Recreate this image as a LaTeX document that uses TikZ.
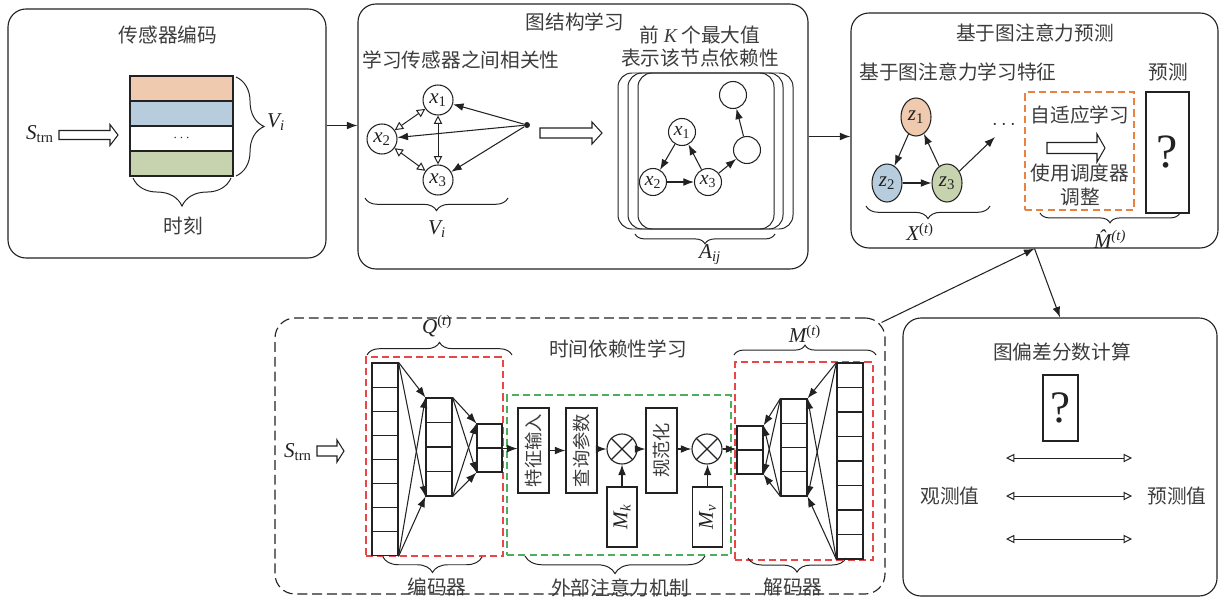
\documentclass[tikz,border=0pt]{standalone}
\usepackage{fontspec}
\setmainfont{Liberation Serif}
\newfontfamily\cjk{Noto Sans CJK SC}
\usetikzlibrary{arrows.meta,decorations.pathreplacing,shapes.geometric,fit,calc}
\definecolor{cor}{HTML}{EFCAAF}
\definecolor{cbl}{HTML}{B7CDDD}
\definecolor{cgr}{HTML}{C6D3AE}
\definecolor{dor}{HTML}{E8833F}
\definecolor{dred}{HTML}{E8474A}
\definecolor{dgrn}{HTML}{4BAF5E}
\definecolor{ln}{HTML}{222222}
\definecolor{tx}{HTML}{3C3C3C}
\newcommand\pxu{*0.025cm}
\newcommand\iv[1]{{\itshape #1}}
\newcommand\harrow[6]{\draw[hol] (#1,#3-#4) -- (#2-#6,#3-#4) -- (#2-#6,#3-#5) -- (#2,#3) -- (#2-#6,#3+#5) -- (#2-#6,#3+#4) -- (#1,#3+#4) -- cycle;}
\tikzset{
  panel/.style={draw, rounded corners=0.45cm, inner sep=0, line width=0.8pt},
  lbl/.style={font=\cjk\fontsize{14pt}{16pt}\selectfont, text=tx, inner sep=0},
  mth/.style={font=\rmfamily\fontsize{15pt}{17pt}\selectfont, inner sep=0},
  brc/.style={decorate, decoration={brace, amplitude=#1}, line width=0.7pt},
  arr/.style={-{Latex[length=7.5pt,width=5.5pt]}, line width=0.75pt},
  oarr/.style={{Triangle[open,length=6pt,width=6pt]}-{Triangle[open,length=6pt,width=6pt]}, line width=0.7pt},
  hol/.style={draw, fill=white, line width=0.75pt},
  cell/.style={draw, minimum width=26\pxu, minimum height=24\pxu, inner sep=0, line width=0.8pt},
  circ/.style={circle, draw, minimum size=30\pxu, inner sep=0, line width=0.75pt, font=\rmfamily\fontsize{15pt}{17pt}\selectfont},
  scirc/.style={circle, draw, minimum size=27\pxu, inner sep=0, line width=0.75pt, font=\rmfamily\fontsize{14pt}{16pt}\selectfont},
  zell/.style={ellipse, draw, minimum width=30\pxu, minimum height=38\pxu, inner sep=0, line width=0.75pt, font=\rmfamily\fontsize{15pt}{17pt}\selectfont},
  dbox/.style={draw, dash pattern=on 5pt off 3pt, inner sep=0, line width=0.8pt},
  vbox/.style={draw, inner sep=0, line width=0.8pt},
  vtxt/.style={font=\cjk\fontsize{13pt}{15pt}\selectfont, text=tx, inner sep=0, rotate=90},
  otim/.style={circle, draw, minimum size=30\pxu, inner sep=0, line width=0.8pt}
}
\begin{document}
\begin{tikzpicture}[x=0.025cm,y=-0.025cm,color=ln]
\useasboundingbox (0,0) rectangle (1220,598);

% ---------- Panel 1 ----------
\node[panel, fit={(8,9) (326,258)}] (p1) {};
\node[lbl] (t1) at (168,35) {传感器编码};
\node[cell, minimum width=103\pxu, minimum height=25\pxu, fill=cor] (s1) at (181.5,88.5) {};
\node[cell, minimum width=103\pxu, minimum height=25\pxu, fill=cbl] (s2) at (181.5,113.5) {};
\node[cell, minimum width=103\pxu, minimum height=25\pxu, font=\fontsize{10pt}{12pt}\selectfont] (s3) at (181.5,138.5) {$\cdots$};
\node[cell, minimum width=103\pxu, minimum height=25\pxu, fill=cgr] (s4) at (181.5,163.5) {};
\draw[brc=20pt] (236,77) -- (236,176);
\node[mth] (v1) at (276,122) {\iv{V}\textsubscript{\iv{i}}};
\draw[brc=20pt] (231,178) -- (133,178);
\node[lbl] (tk) at (183,226) {时刻};
\node[mth] (st1) at (40,134) {\iv{S}\textsubscript{trn}};
\harrow{59}{118}{135}{4.5}{10.5}{8}

% ---------- Panel 2 ----------
\node[panel, fit={(358,4) (808,269)}] (p2) {};
\node[lbl] (t2) at (575,22) {图结构学习};
\node[lbl] (t2a) at (461,60) {学习传感器之间相关性};
\node[circ] (x1) at (438,100) {\iv{x}\textsubscript{1}};
\node[circ] (x2) at (382,139) {\iv{x}\textsubscript{2}};
\node[circ] (x3) at (438,180) {\iv{x}\textsubscript{3}};
\node[circle, fill=ln, minimum size=6\pxu, inner sep=0] (dt) at (527,125) {};
\draw[arr] (dt) -- (x1);
\draw[arr] (dt) -- (x2);
\draw[arr] (dt) -- (x3);
\draw[oarr] (x1) -- (x2);
\draw[oarr] (x1) -- (x3);
\draw[oarr] (x2) -- (x3);
\draw[brc=9pt] (508,198) -- (365,198);
\node[mth] (v2) at (437,229) {\iv{V}\textsubscript{\iv{i}}};
\harrow{540}{602}{133}{5}{11}{10}
\node[lbl] (t2b) at (700,35) {前 {\rmfamily\itshape K} 个最大值};
\node[lbl] (t2c) at (700,58) {表示该节点依赖性};
\node[panel, rounded corners=0.35cm, line width=0.7pt, fit={(618,73) (774,229)}] (f1) {};
\node[panel, rounded corners=0.35cm, line width=0.7pt, fit={(628,73) (783,229)}] (f2) {};
\node[panel, rounded corners=0.35cm, line width=0.7pt, fit={(638,73) (793,229)}] (f3) {};
\node[scirc] (y1) at (682,132) {\iv{x}\textsubscript{1}};
\node[scirc] (y2) at (653,182) {\iv{x}\textsubscript{2}};
\node[scirc] (y3) at (708,182) {\iv{x}\textsubscript{3}};
\node[scirc] (y4) at (747,150) {};
\node[scirc] (y5) at (733,95) {};
\draw[arr] (y1) -- (y2);
\draw[arr] (y3) -- (y1);
\draw[arr] (y2) -- (y3);
\draw[arr] (y3) -- (y4);
\draw[arr] (y4) -- (y5);
\draw[brc=7pt] (775,234) -- (635,234);
\node[mth] (aij) at (710,255) {\iv{A}\textsubscript{\iv{ij}}};

% ---------- Panel 3 ----------
\node[panel, fit={(851,13) (1218,248)}] (p3) {};
\node[lbl] (t3) at (1035,33) {基于图注意力预测};
\node[lbl] (t3a) at (958,72) {基于图注意力学习特征};
\node[lbl] (t3b) at (1168,72) {预测};
\node[zell, fill=cor] (z1) at (916,117) {\iv{z}\textsubscript{1}};
\node[zell, fill=cbl] (z2) at (887,183) {\iv{z}\textsubscript{2}};
\node[zell, fill=cgr] (z3) at (947,183) {\iv{z}\textsubscript{3}};
\node[font=\fontsize{14pt}{16pt}\selectfont, inner sep=0] (zd) at (1004,125) {$\cdots$};
\coordinate (dend) at (995,137);
\draw[arr] (z1) -- (z2);
\draw[arr] (z3) -- (z1);
\draw[arr] (z2) -- (z3);
\draw[arr] (z3) -- (dend);
\draw[brc=9pt] (990,206) -- (866,206);
\node[mth] (xt) at (920,232) {\iv{X}\textsuperscript{(\iv{t})}};
\node[dbox, draw=dor, fit={(1025,92) (1134,210)}] (ad) {};
\node[lbl] (ad1) at (1080,115) {自适应学习};
\harrow{1047}{1105}{148}{5.5}{14}{8}
\node[lbl] (ad2) at (1080,173) {使用调度器};
\node[lbl] (ad3) at (1080,197) {调整};
\node[vbox, fit={(1146,92) (1189,213)}] (pr) {};
\node[font=\fontsize{34pt}{36pt}\selectfont, inner sep=0] (q1) at (pr) {?};
\draw[brc=7pt] (1180,213) -- (1040,213);
\node[mth] (mh) at (1110,239) {\^{\itshape M}\textsuperscript{(\iv{t})}};

% ---------- Panel 4 ----------
\node[panel, fit={(903,318) (1217,596)}] (p4) {};
\node[lbl] (t4) at (1062,352) {图偏差分数计算};
\node[vbox, fit={(1043,375) (1078,441)}] (qb) {};
\node[font=\fontsize{32pt}{34pt}\selectfont, inner sep=0] (q2) at (qb) {?};
\coordinate (l1) at (1006,458); \coordinate (r1) at (1132,458);
\coordinate (l2) at (1006,496); \coordinate (r2) at (1132,496);
\coordinate (l3) at (1006,539); \coordinate (r3) at (1132,539);
\draw[oarr] (l1) -- (r1);
\draw[oarr] (l2) -- (r2);
\draw[oarr] (l3) -- (r3);
\node[lbl] (obs) at (950,496) {观测值};
\node[lbl] (prd) at (1177,496) {预测值};

% ---------- Panel 5 (dashed) ----------
\node[panel, dash pattern=on 7pt off 3.5pt, rounded corners=0.5cm, fit={(275,318) (885,594)}] (p5) {};
\node[lbl] (t5) at (618,349) {时间依赖性学习};
\node[mth] (st2) at (298,452) {\iv{S}\textsubscript{trn}};
\harrow{317}{344}{451}{5}{11}{7}

% encoder
\node[dbox, draw=dred, fit={(366,357) (503,556)}] (enc) {};
\foreach \i in {0,...,7} \node[cell, minimum height=24.1\pxu] (e1-\i) at (385,{375.05+24.1*\i}) {};
\foreach \i in {0,...,3} \node[cell, minimum height=24.5\pxu] (e2-\i) at (439,{410.25+24.5*\i}) {};
\foreach \i in {0,1} \node[cell, minimum width=25\pxu] (e3-\i) at (489.5,{436+24*\i}) {};
\foreach \a in {e1-0.north east, e1-7.south east}
  \foreach \b in {e2-0.north west, e2-3.south west}
    \draw[arr] (\a) -- (\b);
\foreach \a in {e2-0.north east, e2-3.south east}
  \foreach \b in {e3-0.north west, e3-1.south west}
    \draw[arr] (\a) -- (\b);
\draw[brc=9pt] (367,355) -- (512,355);
\node[mth] (qt) at (437,326) {\iv{Q}\textsuperscript{(\iv{t})}};
\draw[brc=11pt] (482,557) -- (383,557);
\node[lbl] (encl) at (437,587) {编码器};

% external attention
\node[dbox, draw=dgrn, fit={(507,395) (731,555)}] (ext) {};
\node[vbox, minimum width=31\pxu, minimum height=85\pxu] (fi) at (533.5,450.5) {};
\node[vtxt] at (fi) {特征输入};
\node[vbox, minimum width=31\pxu, minimum height=85\pxu] (qp) at (581.5,450.5) {};
\node[vtxt] at (qp) {查询参数};
\node[vbox, minimum width=31\pxu, minimum height=85\pxu] (nm) at (661.5,450.5) {};
\node[vtxt] at (nm) {规范化};
\node[otim] (o1) at (622,449) {};
\draw[line width=0.8pt] (o1.45) -- (o1.225) (o1.135) -- (o1.315);
\node[otim] (o2) at (707,449) {};
\draw[line width=0.8pt] (o2.45) -- (o2.225) (o2.135) -- (o2.315);
\node[vbox, minimum width=30\pxu, minimum height=60\pxu] (mk) at (622,517) {};
\node[mth, rotate=90] at (mk) {\iv{M}\textsubscript{\iv{k}}};
\node[vbox, minimum width=30\pxu, minimum height=60\pxu] (mv) at (707.5,517) {};
\node[mth, rotate=90] at (mv) {\iv{M}\textsubscript{\iv{v}}};
\draw[arr] (e3-0.south east) -- (e3-0.south east -| fi.west);
\draw[arr] (fi) -- (qp);
\draw[arr] (qp.east |- o1) -- (o1);
\draw[arr] (o1) -- (o1 -| nm.west);
\draw[arr] (nm.east |- o2) -- (o2);
\draw[arr] (mk) -- (o1);
\draw[arr] (mv.north) -- (mv.north |- o2.south);
\draw[brc=12.5pt] (705,556) -- (525,556);
\node[lbl] (extl) at (620,588) {外部注意力机制};

% decoder
\node[dbox, draw=dred, fit={(735,362) (873,560)}] (dec) {};
\foreach \i in {0,1} \node[cell] (d3-\i) at (750,{438+24*\i}) {};
\foreach \i in {0,...,3} \node[cell, minimum height=24.25\pxu] (d2-\i) at (794,{411.1+24.25*\i}) {};
\foreach \i in {0,...,7} \node[cell, minimum height=24.5\pxu] (d1-\i) at (850,{375.25+24.5*\i}) {};
\foreach \a in {d1-0.north west, d1-7.south west}
  \foreach \b in {d2-0.north east, d2-3.south east}
    \draw[arr] (\a) -- (\b);
\foreach \a in {d2-0.north west, d2-3.south west}
  \foreach \b in {d3-0.north east, d3-1.south east}
    \draw[arr] (\a) -- (\b);
\draw[arr] (o2.east) -- (o2.east -| d3-0.west);
\draw[brc=7pt] (734,355) -- (876,355);
\node[mth] (mt) at (805,334) {\iv{M}\textsuperscript{(\iv{t})}};
\draw[brc=10pt] (846,558) -- (748,558);
\node[lbl] (decl) at (793,587) {解码器};

% ---------- connectors between panels ----------
\coordinate (c12) at ($(p1.east)+(0,-8)$);
\draw[arr] (c12) -- (c12 -| p2.west);
\draw[arr] (p2.east) -- (p2.east -| p3.west);
\coordinate (c5) at ($(p5.north east)+(-4,5)$);
\draw[arr] (c5) -- (p3.south);
\draw[arr] (p3.south) -- (p4.north);
\end{tikzpicture}
\end{document}
